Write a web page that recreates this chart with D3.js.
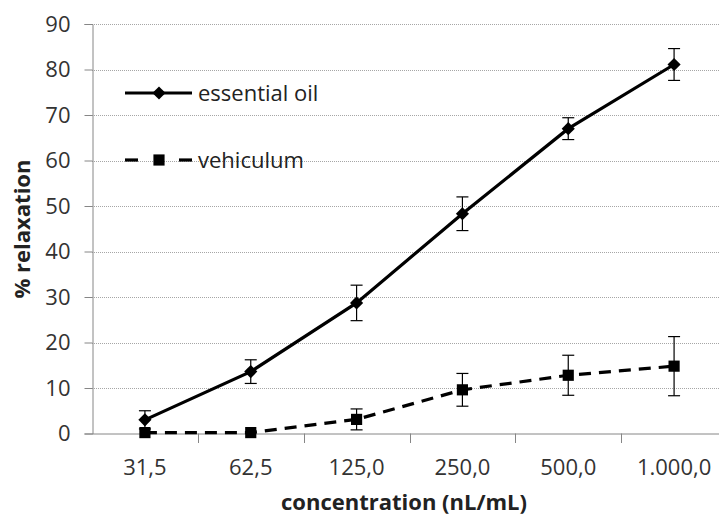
<!DOCTYPE html>
<html>
<head>
<meta charset="utf-8">
<script src="https://cdn.jsdelivr.net/npm/d3@7"></script>
<style>
  body { margin: 0; background: #fff; }
  text { font-family: "Open Sans", sans-serif; }
</style>
</head>
<body>
<svg id="chart" width="719" height="518"></svg>
<script>
// concentrations on the x axis
const categories = ['31,5', '62,5', '125,0', '250,0', '500,0', '1.000,0'];
const oilValues = [3.0, 13.6, 28.7, 48.3, 67.0, 81.1];
const oilErrors = [2.0, 2.6, 3.9, 3.7, 2.4, 3.5];
const vehValues = [0.2, 0.2, 3.1, 9.6, 12.8, 14.8];
const vehErrors = [0, 0, 2.3, 3.6, 4.4, 6.5];
const yTicks = [0, 10, 20, 30, 40, 50, 60, 70, 80, 90];

const svg = d3.select('#chart');

const x = d3.scaleBand().domain(categories).range([92, 727]);
const y = d3.scaleLinear().domain([0, 90]).range([433.5, 24]);

// gridlines
svg.append('g').selectAll('line').data(yTicks.slice(1)).enter().append('line')
    .attr('x1', 92).attr('x2', 727)
    .attr('y1', d => Math.round(y(d)) + 0.5).attr('y2', d => Math.round(y(d)) + 0.5)
    .attr('stroke', '#a6a6a6').attr('stroke-width', 1).attr('stroke-dasharray', '1,1');

// y axis
let yAxis = svg.append('g').attr('transform', 'translate(92.5,0)')
    .call(d3.axisLeft(y).tickValues(yTicks).tickSize(8).tickPadding(14));
yAxis.select('.domain').attr('stroke', '#868686');
yAxis.selectAll('.tick line').attr('stroke', '#868686');
yAxis.selectAll('.tick text').attr('font-size', 22).attr('fill', '#333')
    .attr('font-family', '"Open Sans", sans-serif');

// x axis
let xAxis = svg.append('g').attr('transform', 'translate(0,433.5)')
    .call(d3.axisBottom(x).tickSize(0).tickPadding(26));
xAxis.select('.domain').attr('stroke', '#868686');
xAxis.selectAll('.tick text').attr('font-size', 22).attr('fill', '#333')
    .attr('font-family', '"Open Sans", sans-serif');
// tick marks sit between the categories
svg.append('g').selectAll('line').data(categories.slice(1)).enter().append('line')
    .attr('x1', d => Math.round(x(d)) + 0.5).attr('x2', d => Math.round(x(d)) + 0.5)
    .attr('y1', 433.5).attr('y2', 443)
    .attr('stroke', '#868686');

// axis titles
svg.append('text').attr('x', 404).attr('y', 510).attr('text-anchor', 'middle')
    .attr('font-size', 22).attr('font-weight', 'bold').attr('fill', '#222')
    .text('concentration (nL/mL)');
svg.append('text').attr('transform', 'translate(30,229) rotate(-90)').attr('text-anchor', 'middle')
    .attr('font-size', 22).attr('font-weight', 'bold').attr('fill', '#222')
    .text('% relaxation');

const cx = d => x(d) + x.bandwidth() / 2;

function errorBars(vals, errs) {
    let g = svg.append('g').attr('stroke', '#000').attr('stroke-width', 1.2);
    categories.forEach((c, i) => {
        if (!errs[i]) return;
        let top = y(vals[i] + errs[i]), bot = y(vals[i] - errs[i]);
        g.append('line').attr('x1', cx(c)).attr('x2', cx(c)).attr('y1', top).attr('y2', bot);
        g.append('line').attr('x1', cx(c) - 6).attr('x2', cx(c) + 6).attr('y1', top).attr('y2', top);
        g.append('line').attr('x1', cx(c) - 6).attr('x2', cx(c) + 6).attr('y1', bot).attr('y2', bot);
    });
}
errorBars(oilValues, oilErrors);
errorBars(vehValues, vehErrors);

const line = d3.line().x((d, i) => cx(categories[i])).y(d => y(d));

svg.append('path').datum(vehValues).attr('d', line)
    .attr('fill', 'none').attr('stroke', '#000').attr('stroke-width', 3.2)
    .attr('stroke-dasharray', '12,8');
svg.append('path').datum(oilValues).attr('d', line)
    .attr('fill', 'none').attr('stroke', '#000').attr('stroke-width', 3.2);

const diamond = d3.symbol().type(d3.symbolDiamond2).size(110);
const square = d3.symbol().type(d3.symbolSquare).size(125);

svg.append('g').selectAll('path').data(oilValues).enter().append('path')
    .attr('d', diamond)
    .attr('transform', (d, i) => 'translate(' + cx(categories[i]) + ',' + y(d) + ')');
svg.append('g').selectAll('path').data(vehValues).enter().append('path')
    .attr('d', square)
    .attr('transform', (d, i) => 'translate(' + cx(categories[i]) + ',' + y(d) + ')');

// legend
let leg = svg.append('g');
leg.append('line').attr('x1', 125).attr('x2', 192).attr('y1', 93).attr('y2', 93)
    .attr('stroke', '#000').attr('stroke-width', 3.2);
leg.append('path').attr('d', diamond).attr('transform', 'translate(159,93)');
leg.append('text').attr('x', 198).attr('y', 101).attr('font-size', 22).attr('fill', '#222').text('essential oil');

leg.append('line').attr('x1', 125).attr('x2', 138).attr('y1', 160).attr('y2', 160)
    .attr('stroke', '#000').attr('stroke-width', 3.2);
leg.append('line').attr('x1', 179).attr('x2', 192).attr('y1', 160).attr('y2', 160)
    .attr('stroke', '#000').attr('stroke-width', 3.2);
leg.append('path').attr('d', square).attr('transform', 'translate(159,160)');
leg.append('text').attr('x', 198).attr('y', 168).attr('font-size', 22).attr('fill', '#222').text('vehiculum');
</script>
</body>
</html>
